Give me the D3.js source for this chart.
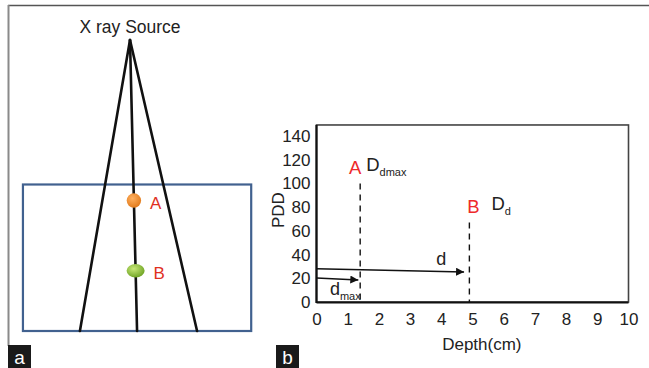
<!DOCTYPE html>
<html>
<head>
<meta charset="utf-8">
<script src="https://cdn.jsdelivr.net/npm/d3@7"></script>
<style>
  html, body { margin: 0; padding: 0; background: #fff; }
  svg { display: block; font-family: "Liberation Sans", Arial, Helvetica, sans-serif; }
</style>
</head>
<body>
<svg id="fig" width="649" height="368"></svg>
<script>
// ---- Panel b: PDD vs depth ----
const xTicks = [0, 1, 2, 3, 4, 5, 6, 7, 8, 9, 10];
const yTicks = [0, 20, 40, 60, 80, 100, 120, 140];
// measurement points: depth (cm), PDD
const pointNames = ["A", "B"];
const pointDepth = [1.4, 4.9];
const pointPDD = [100, 67];
const pointDose = ["dmax", "d"];           // subscript of D
// depth arrows: [x, y] in data units
const arrowNames = ["d", "dmax"];
const arrowFrom = [[0, 28], [0, 20.3]];
const arrowTo = [[4.73, 25.4], [1.34, 18.6]];

// ---- Panel a: beam geometry (units: cm across phantom, cm from source) ----
const beamApex = [0, 0];
const beamEnds = [-2.48, 0.35, 3.32];      // lateral position of each ray at the phantom exit
const phantomTop = 7.2, phantomBottom = 14.5, phantomLeft = -5.3, phantomRight = 6.0;
const dotNames = ["A", "B"];
const dotDepth = [8.0, 11.5];

const svg = d3.select("#fig");

// outer frame lines
svg.append("line").attr("x1", 8).attr("x2", 649).attr("y1", 5.5).attr("y2", 5.5)
  .attr("stroke", "#555").attr("stroke-width", 1.5);
svg.append("line").attr("x1", 8.5).attr("x2", 8.5).attr("y1", 5).attr("y2", 346)
  .attr("stroke", "#8a8a8a").attr("stroke-width", 2);

// ---------- panel a ----------
const ax = d3.scaleLinear().domain([0, 1]).range([130, 130 + 20.2]);  // px per cm laterally
const ay = d3.scaleLinear().domain([0, phantomBottom]).range([40, 331]);

const gA = svg.append("g");
gA.append("rect")
  .attr("x", ax(phantomLeft)).attr("y", ay(phantomTop))
  .attr("width", ax(phantomRight) - ax(phantomLeft))
  .attr("height", ay(phantomBottom) - ay(phantomTop))
  .attr("fill", "none").attr("stroke", "#41618f").attr("stroke-width", 2.2);

beamEnds.forEach(e => {
  gA.append("line")
    .attr("x1", ax(beamApex[0])).attr("y1", ay(beamApex[1]))
    .attr("x2", ax(e)).attr("y2", ay(phantomBottom))
    .attr("stroke", "#111").attr("stroke-width", 2.6).attr("stroke-linecap", "round");
});

gA.append("text").attr("x", ax(0)).attr("y", 33).attr("text-anchor", "middle")
  .attr("font-size", 17.5).attr("fill", "#222").text("X ray Source");

// position on the central ray at a given depth
const centralX = d => ax(beamApex[0] + (beamEnds[1] - beamApex[0]) * d / phantomBottom);

const defs = svg.append("defs");
const gradA = defs.append("radialGradient").attr("id", "gA").attr("cx", "40%").attr("cy", "35%").attr("r", "70%");
gradA.append("stop").attr("offset", "0%").attr("stop-color", "#ffb060");
gradA.append("stop").attr("offset", "100%").attr("stop-color", "#e07818");
const gradB = defs.append("radialGradient").attr("id", "gB").attr("cx", "40%").attr("cy", "35%").attr("r", "70%");
gradB.append("stop").attr("offset", "0%").attr("stop-color", "#c8e878");
gradB.append("stop").attr("offset", "100%").attr("stop-color", "#6aa020");

gA.append("circle").attr("cx", centralX(dotDepth[0])).attr("cy", ay(dotDepth[0]))
  .attr("r", 7.2).attr("fill", "url(#gA)");
gA.append("ellipse").attr("cx", centralX(dotDepth[1])).attr("cy", ay(dotDepth[1]))
  .attr("rx", 9).attr("ry", 6.8).attr("fill", "url(#gB)");
dotNames.forEach((n, i) => {
  gA.append("text").attr("x", centralX(dotDepth[i]) + 16 + i * 2).attr("y", ay(dotDepth[i]) + 8)
    .attr("font-size", 17).attr("fill", "#e0301e").text(n);
});

// panel tags
function tag(x, label) {
  svg.append("rect").attr("x", x).attr("y", 345).attr("width", 23).attr("height", 23).attr("fill", "#1a1a1a");
  svg.append("text").attr("x", x + 11.5).attr("y", 364).attr("text-anchor", "middle")
    .attr("font-size", 19).attr("fill", "#fff").text(label);
}
tag(8, "a");
tag(276, "b");

// ---------- panel b ----------
const x = d3.scaleLinear().domain([0, 10]).range([316.5, 628.5]);
const y = d3.scaleLinear().domain([0, 140]).range([302, 136]);
const yTop = 149.3;

const gB = svg.append("g");
// frame
gB.append("rect").attr("x", x(0)).attr("y", y(yTop)).attr("width", x(10) - x(0)).attr("height", y(0) - y(yTop))
  .attr("fill", "none").attr("stroke", "#444").attr("stroke-width", 1.6);
gB.append("line").attr("x1", x(0)).attr("x2", x(0)).attr("y1", y(yTop)).attr("y2", y(0) + 1)
  .attr("stroke", "#111").attr("stroke-width", 2.2);
gB.append("line").attr("x1", x(0)).attr("x2", x(10)).attr("y1", y(0) + 0.5).attr("y2", y(0) + 0.5)
  .attr("stroke", "#111").attr("stroke-width", 2.2);

const xAxis = d3.axisBottom(x).tickValues(xTicks).tickSize(0).tickPadding(10).tickFormat(d3.format("d"));
const gx = gB.append("g").attr("transform", `translate(0,${y(0) + 1})`).call(xAxis);
const yAxis = d3.axisLeft(y).tickValues(yTicks).tickSize(0).tickPadding(6).tickFormat(d3.format("d"));
const gy = gB.append("g").attr("transform", `translate(${x(0)},0)`).call(yAxis);
[gx, gy].forEach(g => {
  g.select(".domain").remove();
  g.selectAll("text").attr("font-size", 17).attr("fill", "#222")
    .attr("font-family", "Liberation Sans, Arial, sans-serif");
});

gB.append("text").attr("x", x(5.3)).attr("y", 350).attr("text-anchor", "middle")
  .attr("font-size", 17).attr("fill", "#222").text("Depth(cm)");
gB.append("text").attr("transform", `translate(284,${y(80) + 3}) rotate(-90)`).attr("text-anchor", "middle")
  .attr("font-size", 17).attr("fill", "#222").text("PDD");

// dashed depth markers with point and dose labels
pointDepth.forEach((dv, i) => {
  gB.append("line").attr("x1", x(dv)).attr("x2", x(dv)).attr("y1", y(pointPDD[i])).attr("y2", y(0))
    .attr("stroke", "#111").attr("stroke-width", 1.4).attr("stroke-dasharray", "6,5");
  gB.append("text")
    .attr("x", i === 0 ? x(dv) - 5 : x(dv) + 4)
    .attr("y", i === 0 ? y(pointPDD[i]) - 9 : y(pointPDD[i]) - 10)
    .attr("text-anchor", "middle").attr("font-size", 18.5).attr("fill", "#ee2a2a").text(pointNames[i]);
  const dt = gB.append("text").attr("font-size", 18.5).attr("fill", "#222")
    .attr("x", i === 0 ? x(dv) + 6 : x(dv) + 22)
    .attr("y", i === 0 ? y(pointPDD[i]) - 12 : y(pointPDD[i]) - 13);
  dt.append("tspan").text("D");
  dt.append("tspan").attr("font-size", 11).attr("dy", 5).text(pointDose[i]);
});

// arrows
defs.append("marker").attr("id", "arr").attr("viewBox", "0 0 10 10").attr("refX", 10).attr("refY", 5)
  .attr("markerWidth", 10).attr("markerHeight", 8).attr("markerUnits", "userSpaceOnUse").attr("orient", "auto")
  .append("path").attr("d", "M0,0L10,5L0,10Z").attr("fill", "#111");
arrowNames.forEach((n, i) => {
  gB.append("line").attr("x1", x(arrowFrom[i][0])).attr("y1", y(arrowFrom[i][1]))
    .attr("x2", x(arrowTo[i][0])).attr("y2", y(arrowTo[i][1]))
    .attr("stroke", "#111").attr("stroke-width", 1.5).attr("marker-end", "url(#arr)");
});
// arrow labels
gB.append("text").attr("x", x(4.0)).attr("y", 265).attr("text-anchor", "middle")
  .attr("font-size", 18).attr("fill", "#222").text("d");
const dm = gB.append("text").attr("x", x(0.43)).attr("y", 295).attr("font-size", 18).attr("fill", "#222");
dm.append("tspan").text("d");
dm.append("tspan").attr("font-size", 11).attr("dy", 5).text("max");
</script>
</body>
</html>
